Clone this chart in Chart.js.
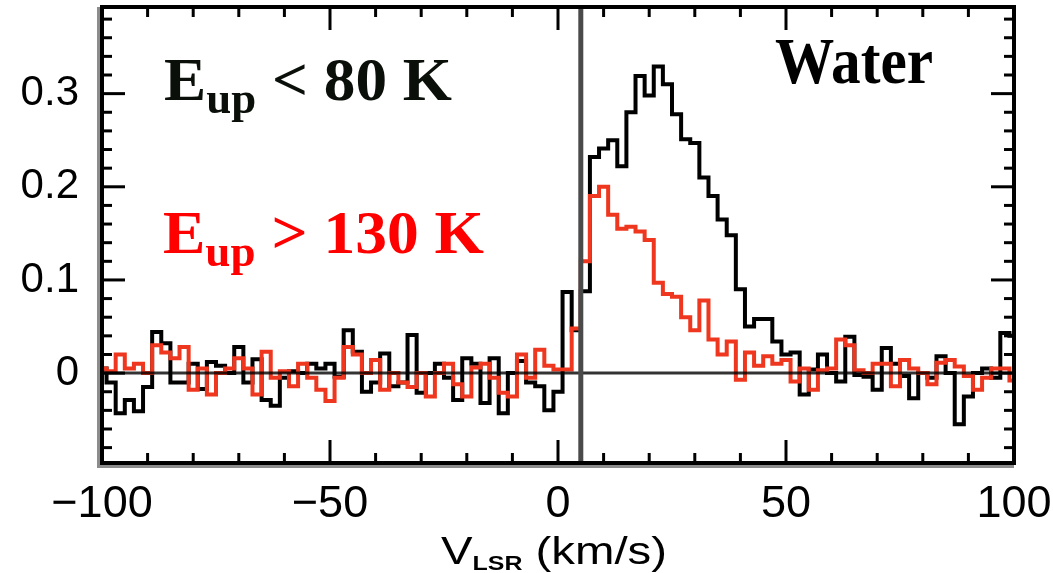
<!DOCTYPE html>
<html>
<head>
<meta charset="utf-8">
<script src="https://cdn.jsdelivr.net/npm/chart.js@4.4.1/dist/chart.umd.min.js"></script>
<style>
  html, body { margin: 0; padding: 0; background: #fff; }
  #chart { display: block; }
</style>
</head>
<body>
<canvas id="chart" width="1053" height="573"></canvas>
<script>
// channel velocities (km/s)
const velocity = [
  -100, -98, -96, -94, -92, -90, -88, -86, -84, -82,
  -80, -78, -76, -74, -72, -70, -68, -66, -64, -62,
  -60, -58, -56, -54, -52, -50, -48, -46, -44, -42,
  -40, -38, -36, -34, -32, -30, -28, -26, -24, -22,
  -20, -18, -16, -14, -12, -10, -8, -6, -4, -2,
  0, 2, 4, 6, 8, 10, 12, 14, 16, 18,
  20, 22, 24, 26, 28, 30, 32, 34, 36, 38,
  40, 42, 44, 46, 48, 50, 52, 54, 56, 58,
  60, 62, 64, 66, 68, 70, 72, 74, 76, 78,
  80, 82, 84, 86, 88, 90, 92, 94, 96, 98,
  100
]

// Eup < 80 K average profile
const lowEup = [
  0.005, -0.01, -0.043, -0.029, -0.041, -0.015, 0.044, 0.032, -0.01, -0.01,
  0.01, -0.017, 0.012, 0.008, 0.0, 0.028, -0.01, 0.015, -0.029, -0.035,
  -0.005, 0.002, 0.0, 0.01, 0.005, 0.01, -0.004, 0.046, 0.023, -0.02,
  -0.01, 0.021, -0.014, -0.01, 0.041, -0.021, 0.0, 0.01, -0.005, -0.029,
  0.016, 0.01, -0.032, 0.016, -0.043, 0.0, 0.013, -0.01, -0.014, -0.04,
  -0.02, 0.087, 0.046, 0.088, 0.232, 0.241, 0.25, 0.222, 0.28, 0.319,
  0.298, 0.329, 0.31, 0.278, 0.251, 0.247, 0.21, 0.19, 0.165, 0.148,
  0.09, 0.05, 0.058, 0.058, 0.034, 0.02, 0.022, -0.023, 0.004, 0.02,
  0.0, -0.009, 0.039, -0.002, -0.004, -0.018, 0.027, 0.01, -0.003, -0.027,
  0.0, -0.005, 0.018, 0.0, -0.055, -0.025, 0.0, 0.005, -0.005, 0.043,
  0.04
]

// Eup > 130 K average profile
const highEup = [
  0.005, 0.002, 0.02, 0.005, 0.01, 0.0, 0.03, 0.022, 0.016, 0.028,
  -0.018, 0.005, -0.023, 0.0, 0.005, 0.016, 0.005, -0.023, 0.023, -0.005,
  0.002, -0.014, 0.01, -0.005, -0.018, -0.03, -0.005, 0.028, 0.02, 0.0,
  0.014, -0.018, 0.0, -0.01, -0.015, 0.0, -0.025, 0.0, 0.01, -0.012,
  -0.025, 0.006, 0.01, -0.005, -0.021, -0.025, 0.02, -0.005, 0.025, 0.008,
  0.004, 0.004, 0.048, 0.12, 0.19, 0.2, 0.17, 0.155, 0.157, 0.152,
  0.143, 0.097, 0.085, 0.082, 0.06, 0.046, 0.078, 0.036, 0.02, 0.034,
  -0.007, 0.022, 0.008, 0.018, 0.01, 0.014, -0.009, 0.005, -0.018, 0.003,
  0.005, 0.036, 0.03, 0.003, 0.0, 0.01, 0.01, -0.014, 0.014, 0.005,
  0.0, -0.012, 0.011, 0.014, 0.007, -0.003, -0.018, -0.005, 0.005, 0.005,
  -0.008
]

const xTicks = [-100, -50, 0, 50, 100]
const yTicks = [0, 0.1, 0.2, 0.3]
const sourceVelocity = 5

const toPoints = vals => velocity.map((v, i) => ({ x: v, y: vals[i] }))

function line(ctx, x1, y1, x2, y2) {
  ctx.beginPath()
  ctx.moveTo(x1, y1)
  ctx.lineTo(x2, y2)
  ctx.stroke()
}

// text made of pieces (base / subscript), squeezed or stretched to a given width
function fitText(ctx, parts, x, base, width, color) {
  let total = 0
  parts.forEach(p => { ctx.font = p.font; p.w = ctx.measureText(p.t).width; total += p.w })
  ctx.save()
  ctx.translate(x, base)
  ctx.scale(width / total, 1)
  ctx.fillStyle = color
  ctx.textBaseline = 'alphabetic'
  ctx.textAlign = 'left'
  let cx = 0
  parts.forEach(p => {
    ctx.font = p.font
    ctx.fillText(p.t, cx, p.dy || 0)
    cx += p.w
  })
  ctx.restore()
}

const serifB = s => 'bold ' + s + 'px "Liberation Serif", "Times New Roman", serif'
const sans = s => s + 'px "Liberation Sans", Arial, sans-serif'

const decorations = {
  id: 'decorations',
  afterDatasetsDraw(chart) {
    const { ctx, chartArea: a, scales: { x, y } } = chart
    ctx.save()
    ctx.lineCap = 'butt'
    // zero level
    ctx.strokeStyle = 'rgba(0,0,0,0.8)'
    ctx.lineWidth = 3
    const y0 = y.getPixelForValue(0)
    line(ctx, a.left, y0, a.right, y0)
    // source velocity
    ctx.strokeStyle = '#4a4a4a'
    ctx.lineWidth = 5
    const xs = x.getPixelForValue(sourceVelocity)
    line(ctx, xs, a.top, xs, a.bottom)
    ctx.restore()
  },
  afterDraw(chart) {
    const { ctx, chartArea: a, scales: { x, y } } = chart
    ctx.save()
    // soft shadow on left and bottom edges
    ctx.strokeStyle = '#8c8c8c'
    ctx.lineWidth = 3
    line(ctx, a.left - 3.5, a.top, a.left - 3.5, a.bottom + 5)
    line(ctx, a.left - 2, a.bottom + 3.5, a.right, a.bottom + 3.5)
    // box
    ctx.strokeStyle = '#000'
    ctx.lineWidth = 4
    ctx.strokeRect(a.left, a.top, a.right - a.left, a.bottom - a.top)
    // inward ticks
    ctx.lineWidth = 3
    for (let k = -4; k <= 19; k++) {
      const py = y.getPixelForValue(k * 0.02)
      const len = k % 5 === 0 ? 23 : 10
      line(ctx, a.left, py, a.left + len, py)
      line(ctx, a.right, py, a.right - len, py)
    }
    for (let k = -9; k <= 9; k++) {
      const px = x.getPixelForValue(k * 10)
      const len = k % 5 === 0 ? 23 : 10
      line(ctx, px, a.bottom, px, a.bottom - len)
      line(ctx, px, a.top, px, a.top + len)
    }
    // axis title
    fitText(ctx, [
      { t: 'V', font: sans(38) },
      { t: 'LSR', font: 'bold ' + sans(20), dy: 6 },
      { t: ' (km/s)', font: sans(38) }
    ], 441, 564, 226, '#000')
    // labels
    fitText(ctx, [
      { t: 'E', font: serifB(62) },
      { t: 'up', font: serifB(44), dy: 13 },
      { t: ' < 80 K', font: serifB(62) }
    ], 164, 100, 288, '#0a0f0a')
    fitText(ctx, [
      { t: 'E', font: serifB(62) },
      { t: 'up', font: serifB(44), dy: 13 },
      { t: ' > 130 K', font: serifB(62) }
    ], 163, 253, 321, '#ff0000')
    fitText(ctx, [{ t: 'Water', font: serifB(65) }], 775, 83, 158, '#000')
    ctx.restore()
  }
}

new Chart('chart', {
  type: 'line',
  data: {
    datasets: [
      {
        label: 'Eup > 130 K',
        data: toPoints(highEup),
        borderColor: 'rgb(238,55,30)',
        borderWidth: 4,
        stepped: 'middle',
        pointRadius: 0
      },
      {
        label: 'Eup < 80 K',
        data: toPoints(lowEup),
        borderColor: '#000',
        borderWidth: 4,
        stepped: 'middle',
        pointRadius: 0
      }
    ]
  },
  options: {
    responsive: false,
    animation: false,
    devicePixelRatio: 1,
    layout: { padding: { left: 0, right: 39, top: 7, bottom: 0 } },
    plugins: { legend: { display: false }, tooltip: { enabled: false } },
    scales: {
      x: {
        type: 'linear',
        min: -100,
        max: 100,
        afterBuildTicks: s => { s.ticks = xTicks.map(v => ({ value: v })) },
        afterFit: s => { s.height = 110; s.paddingLeft = 0; s.paddingRight = 0 },
        grid: { display: false, drawTicks: false },
        border: { display: false },
        ticks: {
          color: '#000',
          padding: 15,
          maxRotation: 0,
          autoSkip: false,
          font: { family: '"Liberation Sans", Arial, sans-serif', size: 45 },
          callback: v => String(v).replace('-', '\u2212')
        }
      },
      y: {
        type: 'linear',
        min: -0.0965,
        max: 0.393,
        afterBuildTicks: s => { s.ticks = yTicks.map(v => ({ value: v })) },
        afterFit: s => { s.width = 102; s.paddingTop = 0; s.paddingBottom = 0 },
        grid: { display: false, drawTicks: false },
        border: { display: false },
        ticks: {
          color: '#000',
          padding: 23,
          font: { family: '"Liberation Sans", Arial, sans-serif', size: 42 }
        }
      }
    }
  },
  plugins: [decorations]
})
</script>
</body>
</html>
